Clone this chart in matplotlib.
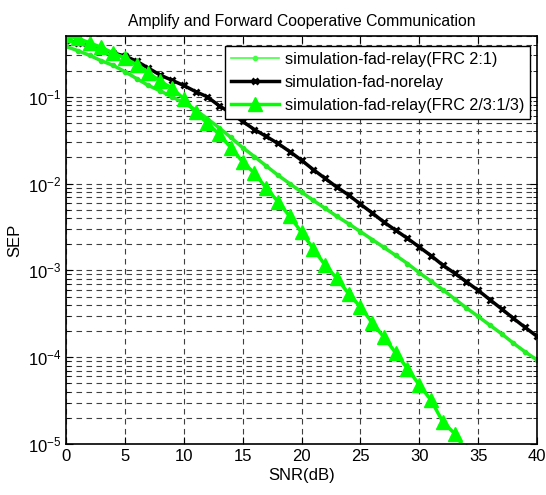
import matplotlib
matplotlib.use("Agg")
import matplotlib.pyplot as plt
from matplotlib.ticker import LogLocator, NullFormatter

plt.rcParams['font.family'] = ['Liberation Sans', 'DejaVu Sans']
plt.rcParams['mathtext.fontset'] = 'custom'
plt.rcParams['mathtext.rm'] = 'Liberation Sans'
plt.rcParams['mathtext.it'] = 'Liberation Sans'
plt.rcParams['mathtext.default'] = 'regular'

snr = list(range(0, 41))

# simulation-fad-relay(FRC 2:1)
sep_relay_21 = [0.38, 0.34, 0.30, 0.26, 0.23, 0.195, 0.162, 0.135, 0.117, 0.100,
                0.085, 0.071, 0.056, 0.044, 0.034, 0.026, 0.0205, 0.0160, 0.0125, 0.0100,
                8.0e-3, 6.4e-3, 5.2e-3, 4.2e-3, 3.45e-3, 2.8e-3, 2.27e-3, 1.84e-3, 1.49e-3, 1.20e-3,
                9.4e-4, 7.5e-4, 6.0e-4, 4.7e-4, 3.7e-4, 2.95e-4, 2.34e-4, 1.86e-4, 1.45e-4, 1.15e-4,
                9.3e-5]

# simulation-fad-norelay
sep_norelay = [0.45, 0.42, 0.38, 0.355, 0.32, 0.295, 0.257, 0.214, 0.178, 0.155,
               0.135, 0.115, 0.100, 0.079, 0.065, 0.052, 0.042, 0.035, 0.029, 0.0234,
               0.0186, 0.0145, 0.0115, 9.1e-3, 7.4e-3, 5.8e-3, 4.6e-3, 3.6e-3, 2.9e-3, 2.34e-3,
               1.86e-3, 1.48e-3, 1.15e-3, 9.3e-4, 7.4e-4, 5.9e-4, 4.6e-4, 3.6e-4, 2.8e-4, 2.2e-4,
               1.74e-4]

# simulation-fad-relay(FRC 2/3:1/3)
snr_tri = list(range(0, 35))
sep_relay_23 = [0.51, 0.47, 0.42, 0.37, 0.32, 0.28, 0.234, 0.19, 0.151, 0.126,
                0.095, 0.066, 0.050, 0.037, 0.026, 0.0178, 0.0132, 8.9e-3, 6.2e-3, 4.2e-3,
                2.75e-3, 1.78e-3, 1.15e-3, 8.1e-4, 5.4e-4, 3.8e-4, 2.5e-4, 1.7e-4, 1.12e-4, 7.4e-5,
                4.8e-5, 3.2e-5, 1.8e-5, 1.32e-5, 8.3e-6]

fig = plt.figure(figsize=(5.46, 4.95), dpi=100)
ax = fig.add_axes([0.1209, 0.103, 0.8626, 0.824])

ax.semilogy(snr, sep_relay_21, '-', color='#22ee22', lw=2.5, marker='.', ms=6,
            label='simulation-fad-relay(FRC 2:1)')
ax.semilogy(snr, sep_norelay, '-', color='black', lw=2.5, marker='x', ms=5, mew=2,
            label='simulation-fad-norelay')
ax.semilogy(snr_tri, sep_relay_23, '-', color='#00ff00', lw=2.5, marker='^', ms=10,
            label='simulation-fad-relay(FRC 2/3:1/3)')

ax.set_xlim(0, 40)
ax.set_ylim(1e-5, 0.5)
ax.set_xticks(range(0, 41, 5))
ax.yaxis.set_major_locator(LogLocator(base=10, numticks=10))
ax.yaxis.set_minor_locator(LogLocator(base=10, subs=range(2, 10), numticks=20))
ax.yaxis.set_minor_formatter(NullFormatter())

grid_style = dict(color='0.25', linestyle=(0, (5, 4)), linewidth=0.8)
ax.grid(True, which='major', axis='both', **grid_style)
ax.grid(True, which='minor', axis='y', **grid_style)

ax.tick_params(which='both', direction='in', top=True, right=True, labelsize=12)
ax.tick_params(which='major', length=5)
ax.tick_params(which='minor', length=3)
for s in ax.spines.values():
    s.set_linewidth(1.2)

ax.set_title('Amplify and Forward Cooperative Communication', fontsize=11.3, pad=7)
ax.set_xlabel('SNR(dB)', fontsize=12, labelpad=3)
ax.set_ylabel('SEP', fontsize=12, labelpad=4)

leg = ax.legend(loc='upper right', fontsize=11.6, frameon=True, fancybox=False,
                edgecolor='black', framealpha=1, borderpad=0.35, labelspacing=0.5,
                handlelength=3.0, handletextpad=0.35, borderaxespad=0,
                bbox_to_anchor=(0.985, 0.975))
leg.get_frame().set_linewidth(1.0)
leg.get_lines()[0].set_linewidth(1.2)
leg.get_lines()[0].set_color('#44ff44')

fig.savefig('out.png', dpi=100)
